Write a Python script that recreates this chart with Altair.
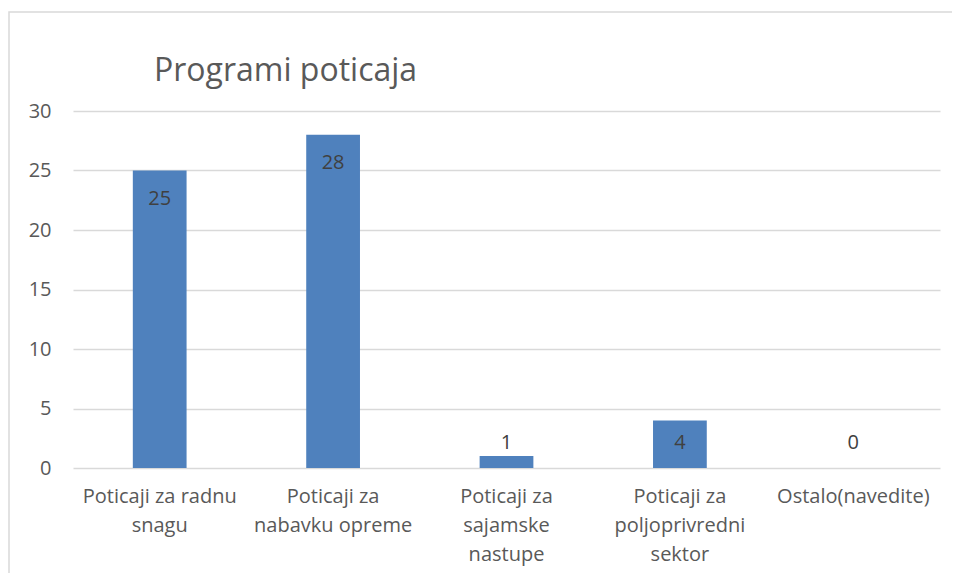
import altair as alt
import pandas as pd

categories = ["Poticaji za radnu snagu", "Poticaji za nabavku opreme",
              "Poticaji za sajamske nastupe", "Poticaji za poljoprivredni sektor",
              "Ostalo(navedite)"]
wrapped = ["Poticaji za radnu\nsnagu", "Poticaji za\nnabavku opreme",
           "Poticaji za\nsajamske\nnastupe", "Poticaji za\npoljoprivredni\nsektor",
           "Ostalo(navedite)"]
values = [25, 28, 1, 4, 0]
title_text = "Programi poticaja"

df = pd.DataFrame({"cat": categories, "label": wrapped, "value": values})
tdf = pd.DataFrame({"t": [title_text]})

FONT = "Open Sans"
TXT = "#595959"
FS = 20

label_map = "{" + ",".join(f'"{c}": "{w}"'.replace("\n", "\\n") for c, w in zip(categories, wrapped)) + "}"

x = alt.X("cat:N", sort=categories, title=None,
          scale=alt.Scale(paddingInner=0.69, paddingOuter=0.345),
          axis=alt.Axis(labelAngle=0, labelFontSize=FS, labelFont=FONT, labelColor=TXT,
                        labelPadding=18, labelLineHeight=29, ticks=False, domain=False,
                        labelBaseline="top",
                        labelExpr="split(" + label_map + "[datum.label], '\\n')"))

y = alt.Y("value:Q", title=None,
          scale=alt.Scale(domain=[0, 30]),
          axis=alt.Axis(values=[0, 5, 10, 15, 20, 25, 30], labelFontSize=FS, labelFont=FONT,
                        labelColor=TXT, labelPadding=22, ticks=False, domain=False,
                        grid=True, gridColor="#D9D9D9", gridWidth=1.5))

bars = alt.Chart(df).mark_bar(color="#4F81BD").encode(x=x, y=y)

labels = alt.Chart(df).transform_calculate(
    ly="max(datum.value - 2.4, 2.1)"
).mark_text(font=FONT, fontSize=FS, color="#404040", baseline="middle").encode(
    x=alt.X("cat:N", sort=categories),
    y=alt.Y("ly:Q"),
    text=alt.Text("value:Q"),
)

title = alt.Chart(tdf).mark_text(font=FONT, fontSize=32, color=TXT, align="left",
                                 baseline="middle").encode(
    x=alt.value(81), y=alt.value(-40), text="t:N"
)

border = alt.Chart(tdf).mark_rect(fill=None, stroke="#D9D9D9", strokeWidth=1.5).encode(
    x=alt.value(-64), x2=alt.value(900), y=alt.value(-99), y2=alt.value(500)
)

chart = alt.layer(bars, labels, title, border).properties(
    width=867, height=357,
    autosize=alt.AutoSizeParams(type="none"),
    padding={"left": 65, "top": 103, "right": 12, "bottom": 105},
).configure_view(stroke=None)

chart.save("out.html", embed_options={"renderer": "svg", "actions": False})
